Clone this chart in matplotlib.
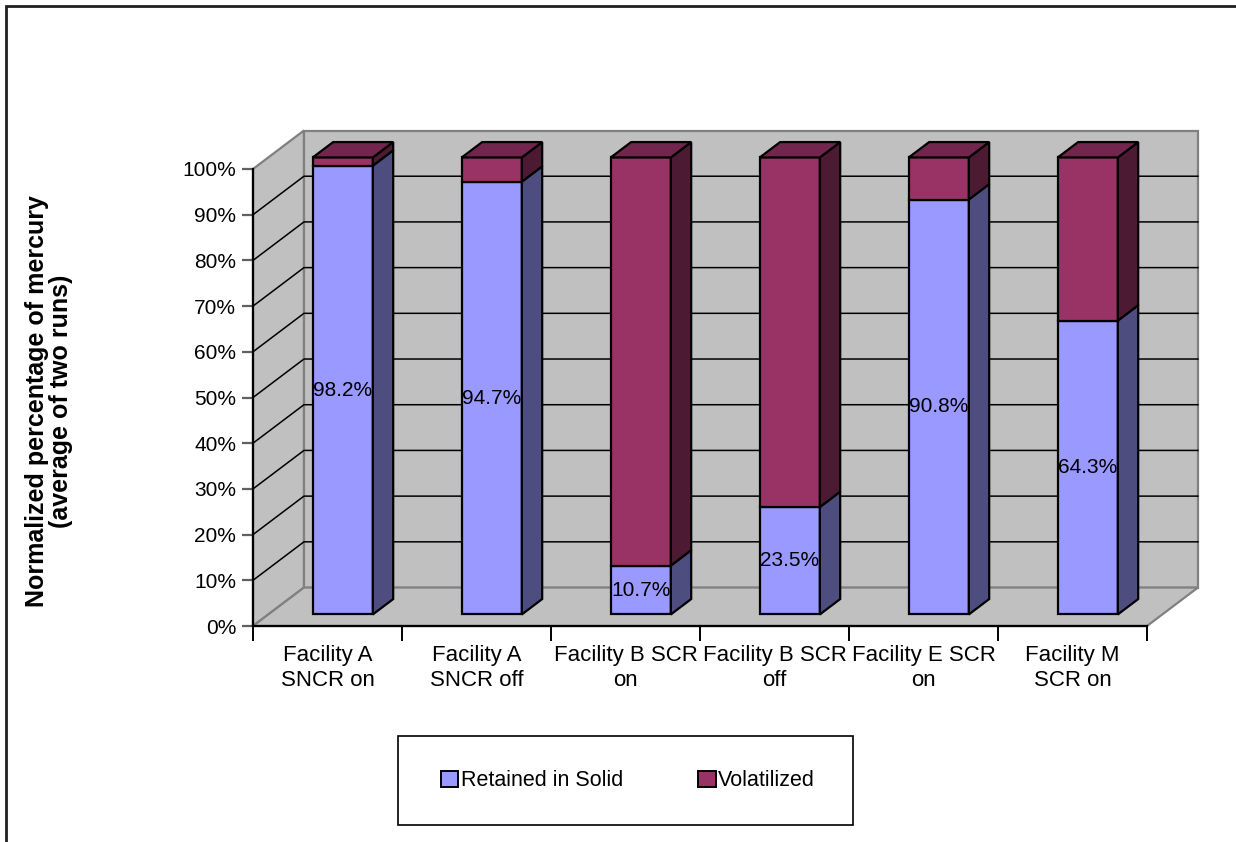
#!/usr/bin/env python
import matplotlib
matplotlib.use("Agg")
import matplotlib.pyplot as plt
from matplotlib.patches import Polygon, Rectangle, Patch

plt.rcParams['font.family'] = ['Liberation Sans', 'DejaVu Sans']

# data
categories = ["Facility A\nSNCR on", "Facility A\nSNCR off", "Facility B SCR\non",
              "Facility B SCR\noff", "Facility E SCR\non", "Facility M\nSCR on"]
retained = [98.2, 94.7, 10.7, 23.5, 90.8, 64.3]
volatilized = [1.8, 5.3, 89.3, 76.5, 9.2, 35.7]
series_names = ["Retained in Solid", "Volatilized"]
y_ticks = list(range(0, 101, 10))

# excel-ish colours: front, side, top
BLUE = ("#9999FF", "#4D4D80", "#7A7ACC")
PLUM = ("#993366", "#4D1A33", "#73264D")
WALL = "#C0C0C0"
WALL_EDGE = "#808080"

# depth of the fake 3d box, in data units (categories, percent)
DX, DY = 0.342, 8.42
BAR_W = 0.403
BAR_D = 0.4     # bar depth as share of box depth
BAR_Z = 0.3     # where the bar front sits inside the box


def draw_walls(ax, n):
    kw = dict(facecolor=WALL, edgecolor=WALL_EDGE, lw=1.6, clip_on=False, zorder=0.5)
    ax.add_patch(Polygon([(0, 0), (0, 100), (DX, 100 + DY), (DX, DY)], **kw))
    ax.add_patch(Polygon([(DX, DY), (n + DX, DY), (n + DX, 100 + DY), (DX, 100 + DY)], **kw))
    ax.add_patch(Polygon([(0, 0), (n, 0), (n + DX, DY), (DX, DY)], **kw))
    for v in y_ticks[1:-1]:
        ax.plot([0, DX, n + DX], [v, v + DY, v + DY], color="black", lw=1.1,
                clip_on=False, zorder=0.6)


def draw_segment(ax, xc, bottom, h, cols, top):
    xl, xr = xc - BAR_W / 2, xc + BAR_W / 2
    ddx, ddy = BAR_D * DX, BAR_D * DY
    ax.bar(xc, h, width=BAR_W, bottom=bottom, color=cols[0], edgecolor="black",
           lw=1.6, clip_on=False, zorder=3)
    ax.add_patch(Polygon([(xr, bottom), (xr + ddx, bottom + ddy),
                          (xr + ddx, bottom + ddy + h), (xr, bottom + h)],
                         facecolor=cols[1], edgecolor="black", lw=1.6,
                         clip_on=False, zorder=3))
    if top:
        yt = bottom + h
        ax.add_patch(Polygon([(xl, yt), (xr, yt), (xr + ddx, yt + ddy), (xl + ddx, yt + ddy)],
                             facecolor=cols[2], edgecolor="black", lw=1.6,
                             clip_on=False, zorder=3))


def plot():
    fig = plt.figure(figsize=(12.36, 8.42), dpi=100)
    ax = fig.add_axes([253 / 1236, 1 - 626 / 842, 894 / 1236, 457 / 842])
    n = len(categories)
    ax.set_xlim(0, n)
    ax.set_ylim(0, 100)
    ax.patch.set_visible(False)
    for s in ("top", "right"):
        ax.spines[s].set_visible(False)
    for s in ("left", "bottom"):
        ax.spines[s].set_linewidth(1.6)
        ax.spines[s].set_zorder(4)

    draw_walls(ax, n)

    base = BAR_Z * DY
    for i in range(n):
        xc = i + 0.5 + BAR_Z * DX
        draw_segment(ax, xc, base, retained[i], BLUE, False)
        draw_segment(ax, xc, base + retained[i], volatilized[i], PLUM, True)
        ax.text(xc, base + retained[i] / 2, f"{retained[i]:.1f}%", ha="center",
                va="center", fontsize=15, zorder=5)

    ax.set_yticks(y_ticks)
    ax.set_yticklabels([f"{v}%" for v in y_ticks])
    ax.tick_params(axis="y", direction="out", length=8, width=1.6, color="#606060",
                   pad=4, labelsize=15)
    ax.set_xticks(range(n + 1))
    ax.set_xticklabels([])
    ax.set_xticks([i + 0.5 for i in range(n)], minor=True)
    ax.set_xticklabels(categories, minor=True, fontsize=16, linespacing=1.25)
    ax.tick_params(axis="x", which="major", direction="out", length=11, width=1.4)
    ax.tick_params(axis="x", which="minor", length=0, pad=14)

    fig.text(49 / 1236, 1 - 401 / 842,
             "Normalized percentage of mercury\n(average of two runs)",
             rotation=90, ha="center", va="center", fontsize=18,
             fontweight="bold", linespacing=1.0)

    # legend box and entries
    fig.patches.append(Rectangle((398 / 1236, 1 - 825 / 842), 455 / 1236, 89 / 842,
                                 transform=fig.transFigure, facecolor="none",
                                 edgecolor="black", lw=1.2))
    handles = [Patch(facecolor=BLUE[0], edgecolor="black", lw=1.4),
               Patch(facecolor=PLUM[0], edgecolor="black", lw=1.4)]
    fig.legend(handles, series_names, loc="center", ncol=2, frameon=False,
               bbox_to_anchor=(628 / 1236, 1 - 781 / 842), fontsize=15.5,
               handlelength=0.8, handleheight=0.8, handletextpad=0.12,
               columnspacing=3.5)

    # chart area border (only top and left show in the picture)
    fig.patches.append(Rectangle((5.5 / 1236, -0.05), 1.2, 1.05 - 5.5 / 842,
                                 transform=fig.transFigure, facecolor="none",
                                 edgecolor="#202020", lw=2))

    fig.savefig("out.png", dpi=100)


def main():
    plot()


if __name__ == '__main__':
    main()
